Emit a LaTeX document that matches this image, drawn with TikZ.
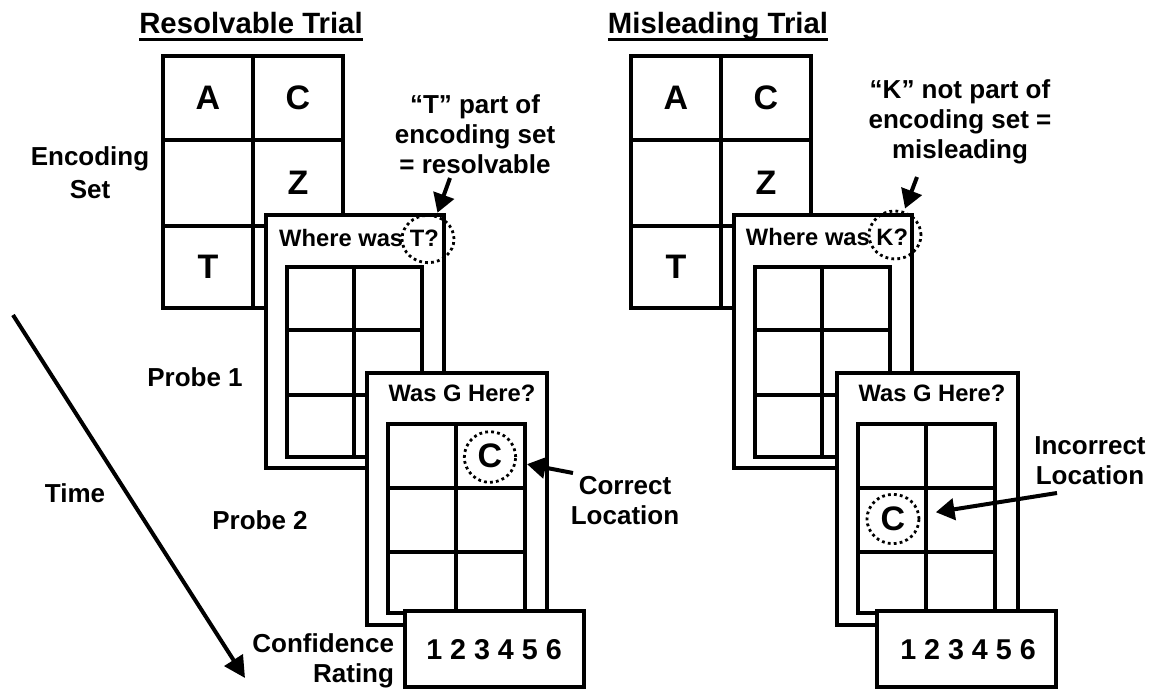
\documentclass[tikz,border=0pt]{standalone}
\usepackage{fontspec}
\setmainfont{Liberation Sans}
\usetikzlibrary{arrows.meta,shapes.geometric}
\begin{document}
\begin{tikzpicture}[x=0.75pt,y=-0.75pt,line join=miter,
  heavy/.style={line width=3pt},
  panel/.style={line width=3pt,fill=white},
  txt/.style={inner sep=0pt,outer sep=0pt},
  title/.style={txt,font=\bfseries\fontsize{22}{26}\selectfont},
  cell/.style={txt,font=\bfseries\fontsize{25.5}{30}\selectfont},
  lbl/.style={txt,align=center,font=\bfseries\fontsize{19.5}{22.5}\selectfont},
  prb/.style={txt,font=\bfseries\fontsize{17.8}{21}\selectfont},
  num/.style={txt,font=\bfseries\fontsize{21.5}{25}\selectfont},
  ring/.style={ellipse,draw,inner sep=0pt,line width=2.1pt,dash pattern=on 2.1pt off 2.4pt},
  ptr/.style={line width=3pt,-{Triangle[length=14pt,width=16pt]}},
  uline/.style={line width=2.25pt}]
\useasboundingbox (0,0) rectangle (1158,689);

% ---------- left-hand labels ----------
\node[lbl,font=\bfseries\fontsize{19.5}{24.5}\selectfont] (encLbl) at (90,173) {Encoding\\Set};
\node[lbl] (probeOne) at (195,377) {Probe 1};
\node[lbl] (probeTwo) at (260,520) {Probe 2};
\node[lbl] (timeLbl) at (75,493) {Time};
\node[lbl,align=right,anchor=east] (confLbl) at (394,661) {Confidence\\Rating};
\coordinate (timeStart) at (13,315);
\coordinate (timeEnd) at (245,678);
\draw[line width=3pt,-{Triangle[length=16pt,width=16pt]}] (timeStart) -- (timeEnd);

% ================= resolvable trial =================
\node[title,anchor=base] (ttlR) at (251,33) {Resolvable Trial};
\draw[uline] ([yshift=-4.5pt]ttlR.base west) -- ([yshift=-4.5pt]ttlR.base east);

% encoding set
\draw[heavy] (163,56) rectangle (343,308);
\draw[heavy] (253,56) -- (253,308) (163,140) -- (343,140) (163,226) -- (343,226);
\node[cell] (rA) at (208,98) {A};
\node[cell] (rC) at (298,98) {C};
\node[cell] (rZ) at (298,183) {Z};
\node[cell] (rT) at (208,267) {T};

% probe 1
\draw[panel] (266,215) rectangle (444,468);
\draw[heavy] (287,267) rectangle (422,457);
\draw[heavy] (354,267) -- (354,457) (287,330) -- (422,330) (287,395) -- (422,395);
\node[prb] (rWhere) at (359,238) {Where was T?};
\node[ring,minimum width=39pt,minimum height=35.5pt] (rRingT) at (428,239) {};

% annotation
\node[lbl] (rNote) at (475,134) {“T” part of\\encoding set\\= resolvable};
\coordinate (rNoteTail) at (450,178);
\draw[ptr,shorten >=2pt] (rNoteTail) -- (rRingT);

% probe 2
\draw[panel] (367,373) rectangle (547,625);
\draw[heavy] (388,424) rectangle (525,613);
\draw[heavy] (456,424) -- (456,613) (388,488) -- (525,488) (388,552) -- (525,552);
\node[prb] (rWas) at (462,393) {Was G Here?};
\node[cell] (rGC) at (490,456) {C};
\node[ring,minimum width=38.5pt,minimum height=38pt] (rRingC) at (490,457) {};
\node[lbl] (rCorrect) at (625,501) {Correct\\Location};
\coordinate (rCorrTail) at (573,473);
\draw[ptr,shorten >=8pt] (rCorrTail) -- (rRingC);

% confidence rating
\draw[panel] (405,611) rectangle (584,687);
\node[num] (rNums) at (494,650) {1 2 3 4 5 6};

% ================= misleading trial =================
\begin{scope}[xshift=351pt]
\node[title,anchor=base] (ttlM) at (250,33) {Misleading Trial};
\draw[uline] ([yshift=-4.5pt]ttlM.base west) -- ([yshift=-4.5pt]ttlM.base east);

% encoding set
\draw[heavy] (163,56) rectangle (343,308);
\draw[heavy] (253,56) -- (253,308) (163,140) -- (343,140) (163,226) -- (343,226);
\node[cell] (mA) at (208,98) {A};
\node[cell] (mC) at (298,98) {C};
\node[cell] (mZ) at (298,183) {Z};
\node[cell] (mT) at (208,267) {T};

% probe 1
\draw[panel] (266,215) rectangle (444,468);
\draw[heavy] (287,267) rectangle (422,457);
\draw[heavy] (354,267) -- (354,457) (287,330) -- (422,330) (287,395) -- (422,395);
\node[prb] (mWhere) at (359,237) {Where was K?};
\node[ring,minimum width=39pt,minimum height=36pt] (mRingK) at (427,235) {};

% annotation
\node[lbl] (mNote) at (492,122) {“K” not part of\\encoding set =\\misleading};
\coordinate (mNoteTail) at (449,177);
\draw[ptr,shorten >=2pt] (mNoteTail) -- (mRingK);

% probe 2
\draw[panel] (369,373) rectangle (550,625);
\draw[heavy] (390,424) rectangle (527,613);
\draw[heavy] (458,424) -- (458,613) (390,488) -- (527,488) (390,552) -- (527,552);
\node[prb] (mWas) at (464,393) {Was G Here?};
\node[cell] (mGC) at (425,519) {C};
\node[ring,minimum width=39pt,minimum height=37pt] (mRingC) at (425,519) {};
\node[lbl] (mIncorrect) at (622,461) {Incorrect\\Location};
\coordinate (mIncTail) at (589,493);
\draw[ptr,shorten >=12pt] (mIncTail) -- (mRingC);

% confidence rating
\draw[panel] (409,611) rectangle (588,687);
\node[num] (mNums) at (500,650) {1 2 3 4 5 6};
\end{scope}
\end{tikzpicture}
\end{document}
